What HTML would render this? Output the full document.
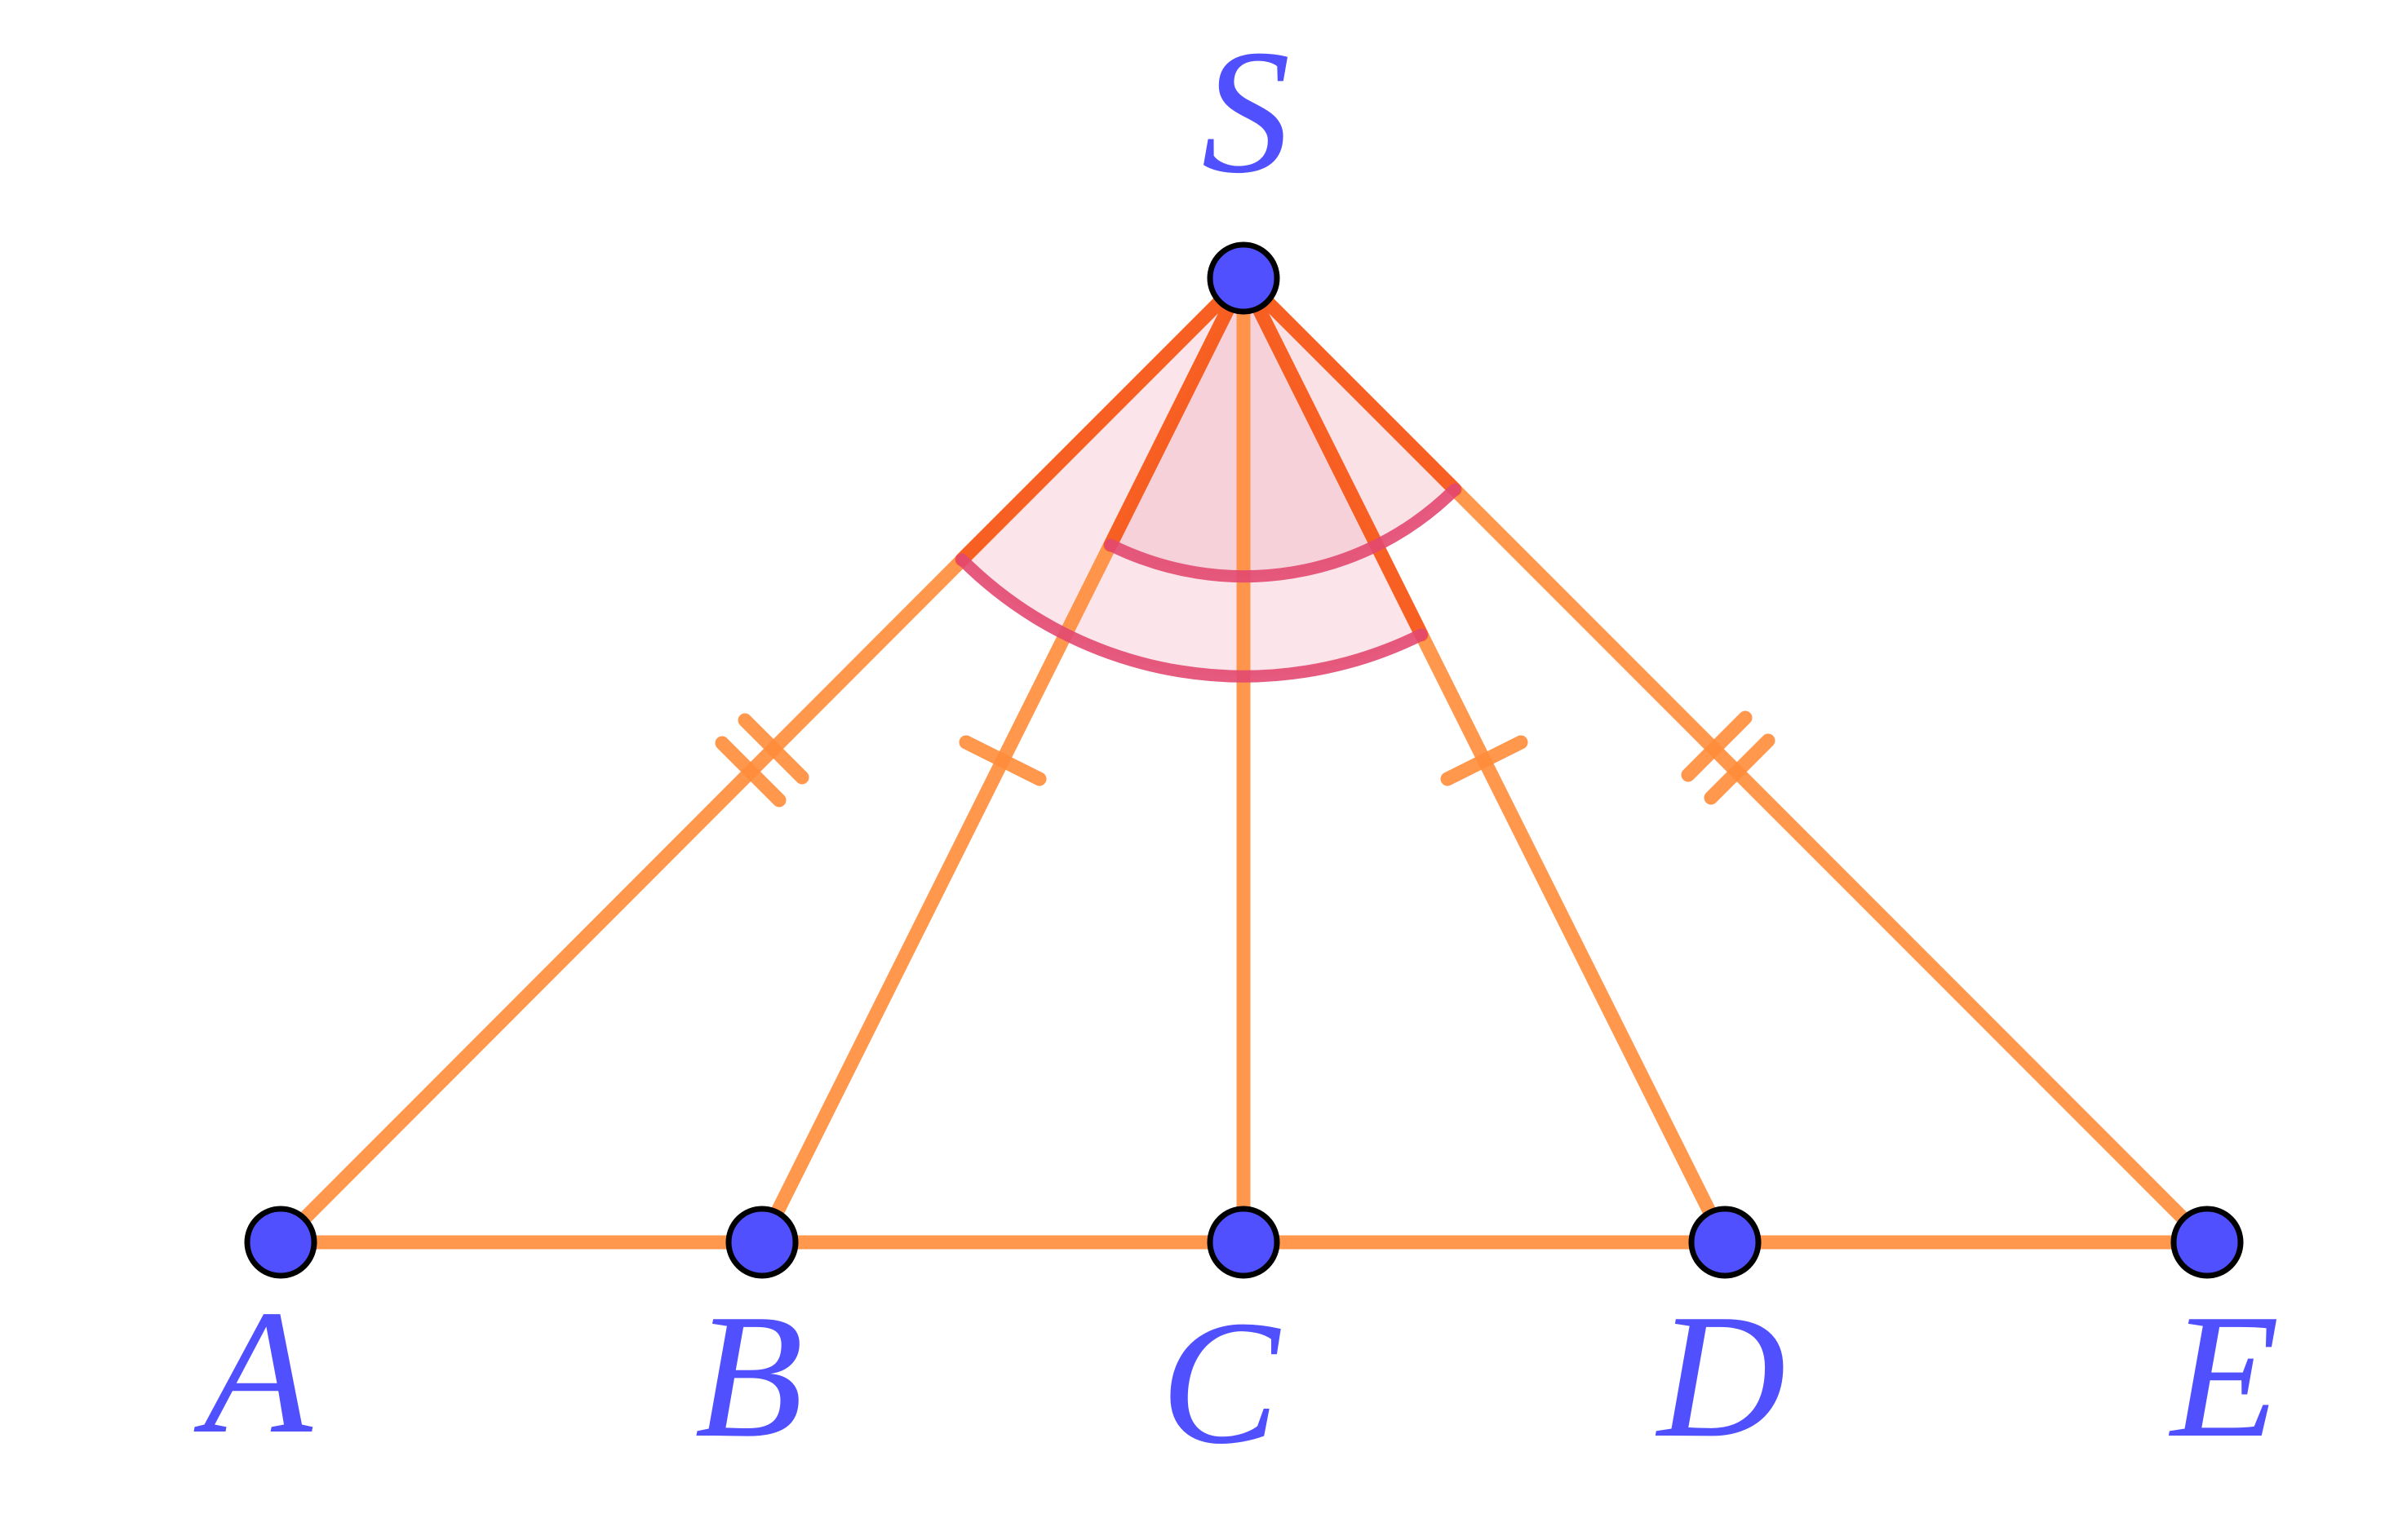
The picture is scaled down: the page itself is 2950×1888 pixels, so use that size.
<!DOCTYPE html>
<html><head><style>html,body{margin:0;padding:0;background:#fff}svg{display:block}</style></head>
<body>
<svg width="2950" height="1888" viewBox="0 0 2950 1888" xmlns="http://www.w3.org/2000/svg">
<path d="M1524,341 L1179,686 A488,488 0 0 0 1742,778 Z" fill="#f7c6d0" fill-opacity="0.45"/>
<path d="M1524,341 L1361,668 A366,366 0 0 0 1783,600 Z" fill="#f2b4c0" fill-opacity="0.4"/>
<g stroke="#ff8c3a" stroke-opacity="0.9" stroke-width="17" stroke-linecap="round" fill="none">
<line x1="344" y1="1523" x2="2705" y2="1523"/>
<line x1="1524" y1="341" x2="344" y2="1523"/>
<line x1="1524" y1="341" x2="934" y2="1523"/>
<line x1="1524" y1="341" x2="1524" y2="1523"/>
<line x1="1524" y1="341" x2="2114" y2="1523"/>
<line x1="1524" y1="341" x2="2705" y2="1523"/>
<line x1="913" y1="883" x2="983" y2="953"/>
<line x1="885" y1="911" x2="955" y2="981"/>
<line x1="2139" y1="880" x2="2069" y2="950"/>
<line x1="2167" y1="908" x2="2097" y2="978"/>
<line x1="1184" y1="910" x2="1274" y2="955"/>
<line x1="1864" y1="910" x2="1774" y2="955"/>
</g>
<g stroke="#f65a1e" stroke-opacity="0.9" stroke-width="17" stroke-linecap="round" fill="none">
<line x1="1524" y1="341" x2="1179" y2="686"/>
<line x1="1524" y1="341" x2="1742" y2="778"/>
<line x1="1524" y1="341" x2="1361" y2="668"/>
<line x1="1524" y1="341" x2="1783" y2="600"/>
</g>
<g stroke="#e24870" stroke-opacity="0.9" stroke-width="15" stroke-linecap="round" fill="none">
<path d="M1179,686 A488,488 0 0 0 1742,778"/>
<path d="M1361,668 A366,366 0 0 0 1783,600"/>
</g>
<g fill="#5050ff" stroke="#000" stroke-width="7">
<circle cx="1524" cy="341" r="41"/>
<circle cx="344" cy="1523" r="41"/>
<circle cx="934" cy="1523" r="41"/>
<circle cx="1524" cy="1523" r="41"/>
<circle cx="2114" cy="1523" r="41"/>
<circle cx="2705" cy="1523" r="41"/>
</g>
<g fill="#5050ff" font-family="Liberation Serif, serif" font-style="italic" font-size="218" text-anchor="middle">
<text x="1527" y="210">S</text>
<text x="316" y="1755">A</text>
<text x="918" y="1760">B</text>
<text x="1495" y="1768">C</text>
<text x="2110" y="1760">D</text>
<text x="2727" y="1760">E</text>
</g>
</svg>
</body></html>
